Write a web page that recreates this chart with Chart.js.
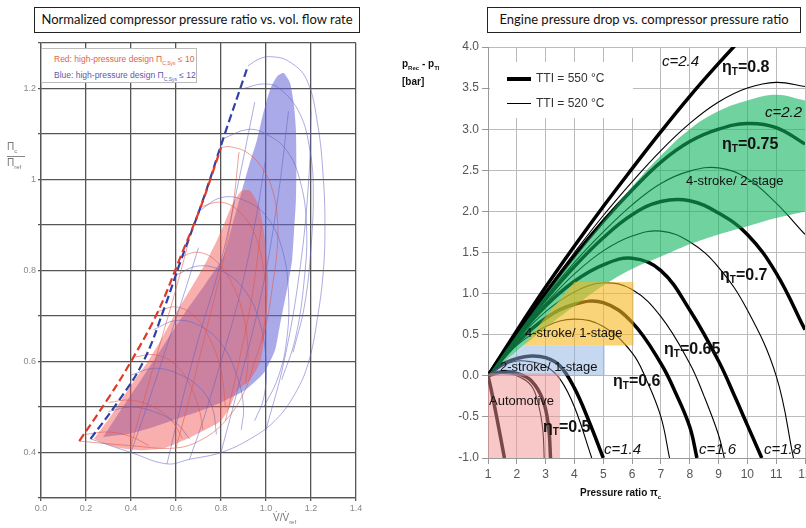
<!DOCTYPE html>
<html>
<head>
<meta charset="utf-8">
<script src="https://cdn.jsdelivr.net/npm/chart.js@4.4.0/dist/chart.umd.min.js"></script>
<style>
body{margin:0;width:806px;height:528px;overflow:hidden;background:#fff;position:relative;font-family:'Liberation Sans',Arial,sans-serif}
canvas{position:absolute;top:0}
#left{left:0}
#right{left:400px}
.box{position:absolute;border:1.5px solid #222;background:#fff;font-family:Lato,'Open Sans',sans-serif;font-size:13px;color:#111;text-align:center;line-height:23px;box-sizing:border-box}
.t{position:absolute;white-space:nowrap;color:#111}
.eta{font-weight:bold;font-size:16px}
.eta sub{font-size:10px;vertical-align:-3px}
.c{font-style:italic;font-size:15px}
.reg{font-size:13px}
</style>
</head>
<body>
<canvas id="left" width="400" height="528"></canvas>
<canvas id="right" width="420" height="528"></canvas>

<div class="box" style="left:34px;top:7px;width:326px;height:26px">Normalized compressor pressure ratio vs. vol. flow rate</div>
<div class="box" style="left:487px;top:7px;width:314px;height:26px">Engine pressure drop vs. compressor pressure ratio</div>

<!-- left panel texts -->
<div style="position:absolute;left:41px;top:48px;width:156px;height:35px;border:1px solid #bbb;background:#fff;box-sizing:border-box;font-size:8.5px;line-height:12px;padding:4px 0 0 12px">
  <div style="color:#e26447">Red: high-pressure design Π<sub style="font-size:5px">C,Sys</sub> ≤ 10</div>
  <div style="color:#5a5ab4">Blue: high-pressure design Π<sub style="font-size:5px">C,Sys</sub> ≤ 12</div>
</div>
<div class="t" style="left:7px;top:141px;font-size:10px;color:#777">Π<sub style="font-size:6px">c</sub></div>
<div style="position:absolute;left:7px;top:156px;width:18px;border-top:1px solid #888"></div>
<div class="t" style="left:7px;top:157px;font-size:10px;color:#777">Π<sub style="font-size:6px">ref</sub></div>
<div class="t" style="left:273px;top:512px;font-size:10px;color:#777">V̇/V̇<sub style="font-size:6px">ref</sub></div>

<!-- right panel texts -->
<div class="t" style="left:402px;top:58px;font-size:10px;font-weight:bold">p<sub style="font-size:6px">Rec</sub> - p<sub style="font-size:6px">TI</sub></div>
<div class="t" style="left:402px;top:76px;font-size:10px;font-weight:bold">[bar]</div>
<div class="t" style="left:580px;top:487px;font-size:10px;font-weight:bold">Pressure ratio π<sub style="font-size:6px">c</sub></div>

<div style="position:absolute;left:490px;top:62px;width:143px;height:56px;background:#fff"></div>
<div style="position:absolute;left:507px;top:77px;width:24px;height:4px;background:#000"></div>
<div class="t" style="left:536px;top:71px;font-size:12px;color:#333">TTI = 550 °C</div>
<div style="position:absolute;left:507px;top:103px;width:24px;height:1px;background:#000"></div>
<div class="t" style="left:536px;top:96px;font-size:12px;color:#333">TTI = 520 °C</div>

<div class="t c" style="left:662px;top:52px">c=2.4</div>
<div class="t eta" style="left:722px;top:58px">η<sub>T</sub>=0.8</div>
<div class="t c" style="left:765px;top:103px">c=2.2</div>
<div class="t eta" style="left:722px;top:135px">η<sub>T</sub>=0.75</div>
<div class="t reg" style="left:686px;top:173px">4-stroke/ 2-stage</div>
<div class="t eta" style="left:720px;top:266px">η<sub>T</sub>=0.7</div>
<div class="t reg" style="left:525px;top:325px">4-stroke/ 1-stage</div>
<div class="t eta" style="left:664px;top:340px">η<sub>T</sub>=0.65</div>
<div class="t reg" style="left:500px;top:359px">2-stroke/ 1-stage</div>
<div class="t eta" style="left:613px;top:372px">η<sub>T</sub>=0.6</div>
<div class="t reg" style="left:489px;top:393px">Automotive</div>
<div class="t eta" style="left:543px;top:418px">η<sub>T</sub>=0.5</div>
<div class="t c" style="left:604px;top:440px">c=1.4</div>
<div class="t c" style="left:699px;top:440px">c=1.6</div>
<div class="t c" style="left:764px;top:440px">c=1.8</div>

<script>
// ---------- left: compressor map (V/Vref, PIc/PIref) ----------
const surgeRed  = [[0.17,0.425],[0.3,0.52],[0.4,0.6],[0.52,0.71],[0.62,0.83],[0.71,0.94],[0.80,1.07]];
const surgeBlue = [[0.22,0.43],[0.34,0.51],[0.455,0.6],[0.55,0.72],[0.62,0.82],[0.72,0.955],[0.81,1.09],[0.92,1.25]];

const fillBlue = [[0.276,0.434],[0.33,0.475],[0.39,0.52],[0.445,0.56],[0.498,0.6],[0.57,0.655],[0.65,0.715],[0.73,0.77],
  [0.81,0.83],[0.85,0.9],[0.89,0.97],[0.93,1.04],[0.96,1.087],[0.99,1.15],[1.02,1.2],[1.05,1.227],[1.078,1.234],
  [1.107,1.212],[1.125,1.16],[1.133,1.109],[1.135,1.03],[1.133,0.955],[1.125,0.89],[1.116,0.823],[1.1,0.775],
  [1.084,0.735],[1.06,0.675],[1.04,0.625],[0.99,0.575],[0.9,0.535],[0.8,0.51],[0.7,0.49],[0.58,0.47],[0.48,0.453],[0.38,0.44]];
const fillRed = [[0.235,0.43],[0.31,0.48],[0.41,0.555],[0.475,0.6],[0.53,0.645],[0.58,0.69],[0.635,0.735],[0.69,0.78],
  [0.74,0.825],[0.785,0.87],[0.82,0.91],[0.85,0.945],[0.89,0.975],[0.93,0.975],[0.97,0.94],[0.995,0.87],[1.01,0.78],
  [1.0,0.68],[0.975,0.6],[0.93,0.56],[0.87,0.535],[0.84,0.5],[0.8,0.47],[0.75,0.455],[0.65,0.43],[0.55,0.41],
  [0.45,0.405],[0.35,0.41],[0.28,0.42]];

const meshBlue = [
  [[0.92,1.25],[0.97,1.265],[1.02,1.27],[1.1,1.26],[1.18,1.22],[1.23,1.12],[1.255,1.0],[1.262,0.9],[1.255,0.8],[1.23,0.7],[1.19,0.6],[1.13,0.53],[1.04,0.47],[0.93,0.43],[0.8,0.4],[0.66,0.385],[0.56,0.375],[0.4,0.4],[0.22,0.43]],
  [[0.9,1.2],[0.99,1.21],[1.06,1.2],[1.15,1.145],[1.195,1.065],[1.21,0.98],[1.2,0.85],[1.17,0.72],[1.12,0.62]],
  [[0.81,1.09],[0.92,1.11],[1.0,1.1],[1.09,1.065],[1.15,1.0],[1.18,0.9],[1.17,0.78],[1.13,0.65],[1.07,0.56]],
  [[0.7,0.93],[0.8,0.96],[0.9,0.955],[1.0,0.92],[1.07,0.85],[1.1,0.75],[1.09,0.64],[1.05,0.56],[0.99,0.5]],
  [[0.6,0.79],[0.7,0.81],[0.8,0.8],[0.9,0.76],[0.97,0.69],[1.0,0.6],[0.99,0.52],[0.95,0.47]],
  [[0.5,0.67],[0.6,0.69],[0.7,0.68],[0.8,0.64],[0.87,0.57],[0.9,0.5],[0.89,0.45]],
  [[0.4,0.57],[0.5,0.585],[0.6,0.575],[0.7,0.545],[0.76,0.5],[0.78,0.44]],
  [[0.3,0.49],[0.4,0.5],[0.5,0.49],[0.6,0.465],[0.66,0.43]],
  [[0.56,0.375],[0.62,0.5],[0.7,0.65],[0.8,0.82],[0.88,1.0],[0.95,1.17]],
  [[0.8,0.4],[0.88,0.55],[0.98,0.75],[1.05,0.95],[1.1,1.15]],
  [[1.0,0.45],[1.08,0.6],[1.15,0.8],[1.19,1.0],[1.2,1.15]],
  [[0.4,0.4],[0.47,0.5],[0.55,0.62],[0.63,0.74],[0.7,0.85]],
  [[0.66,0.385],[0.72,0.47],[0.8,0.6],[0.88,0.74],[0.95,0.9],[1.0,1.05]]
];
const meshRed = [
  [[0.8,1.07],[0.84,1.072],[0.92,1.058],[0.99,1.02],[1.03,0.975],[1.05,0.92],[1.05,0.85],[1.03,0.77],[1.0,0.68],[0.95,0.6],[0.9,0.53],[0.82,0.47],[0.72,0.43],[0.6,0.41],[0.4,0.415],[0.17,0.425]],
  [[0.71,0.94],[0.8,0.95],[0.88,0.93],[0.95,0.88],[0.99,0.8],[1.0,0.72],[0.98,0.64]],
  [[0.62,0.83],[0.7,0.84],[0.78,0.82],[0.85,0.77],[0.9,0.7],[0.92,0.62],[0.91,0.55]],
  [[0.52,0.71],[0.6,0.72],[0.68,0.7],[0.75,0.65],[0.8,0.58],[0.82,0.5]],
  [[0.42,0.61],[0.5,0.615],[0.58,0.6],[0.65,0.56],[0.7,0.5],[0.72,0.45]],
  [[0.3,0.51],[0.4,0.515],[0.5,0.5],[0.58,0.47],[0.63,0.43]],
  [[0.2,0.44],[0.3,0.445],[0.4,0.435],[0.48,0.415]],
  [[0.6,0.41],[0.66,0.52],[0.73,0.66],[0.8,0.8],[0.85,0.93],[0.88,1.06]],
  [[0.82,0.47],[0.88,0.6],[0.94,0.75],[0.98,0.9]],
  [[0.4,0.415],[0.46,0.52],[0.53,0.64],[0.6,0.76],[0.66,0.87]]
];

// ---------- right: engine pressure drop vs. pressure ratio ----------
const eta80_550 = [[1,0],[2,0.55],[3,1.08],[4,1.58],[5,2.06],[6,2.52],[7,2.97],[8,3.4],[9,3.8],[10,4.18]];
const eta80_520 = [[1,0],[2,0.53],[3,1.03],[4,1.5],[5,1.95],[6,2.36],[7,2.74],[8,3.07],[9,3.33],[10,3.5],[11,3.57],[12,3.52]];
const eta75_550 = [[1,0],[2,0.52],[3,1.0],[4,1.46],[5,1.88],[6,2.26],[7,2.6],[8,2.85],[9,3.0],[10,3.07],[11,3.02],[12,2.82]];
const eta75_520 = [[1,0],[2,0.5],[3,0.96],[4,1.38],[5,1.75],[6,2.08],[7,2.34],[8,2.49],[9,2.53],[10,2.4],[11,2.1],[12,1.72]];
const eta70_550 = [[1,0],[2,0.49],[3,0.93],[4,1.33],[5,1.68],[6,1.96],[7,2.12],[8,2.13],[9,1.98],[10,1.72],[11,1.25],[12,0.56]];
const eta70_520 = [[1,0],[2,0.47],[3,0.88],[4,1.24],[5,1.52],[6,1.7],[7,1.76],[8,1.63],[9,1.32],[10,0.8],[11,0.0],[11.6,-1]];
const eta65_550 = [[1,0],[2,0.46],[3,0.85],[4,1.15],[5,1.35],[6,1.43],[7,1.28],[8,0.8],[9,0.18],[9.6,-0.28],[10,-0.6],[10.5,-1]];
const eta65_520 = [[1,0],[2,0.43],[3,0.78],[4,1.02],[5,1.13],[6,1.05],[7,0.72],[8,0.15],[8.5,-0.25],[9,-0.72],[9.2,-1]];
const eta60_550 = [[1,0],[2,0.4],[3,0.7],[4,0.87],[5,0.89],[6,0.65],[7,0.15],[7.5,-0.2],[8,-0.62],[8.25,-1]];
const eta60_520 = [[1,0],[2,0.37],[3,0.6],[4,0.69],[5,0.6],[6,0.28],[6.5,-0.05],[7,-0.5],[7.3,-1]];
const eta50_550 = [[1,0],[1.5,0.14],[2,0.21],[2.5,0.24],[3,0.22],[3.5,0.12],[4,-0.15],[4.5,-0.55],[5,-1]];
const eta50_520 = [[1,0],[1.5,0.12],[2,0.18],[2.5,0.17],[3,0.12],[3.5,-0.04],[4,-0.38],[4.6,-1]];
const auto_550 = [[1,0],[1.5,0.05],[2,0.03],[2.5,-0.06],[2.9,-0.29],[3.1,-0.62],[3.17,-1]];
const auto_520 = [[1,0],[1.5,0.03],[2,0.0],[2.5,-0.12],[2.75,-0.35],[2.9,-0.65],[2.95,-1]];
const auto_550b = [[1,0],[1.1,-0.15],[1.3,-0.5],[1.57,-1]];

const bandUpper = [[1,0],[2,0.5],[3,0.98],[4,1.44],[5,1.88],[6,2.3],[7,2.68],[8,3.0],[9,3.22],[10,3.35],[11,3.42],[12,3.35]];
const bandLower = [[1,0],[2,0.3],[3,0.58],[3.5,0.72],[4,0.85],[5,1.1],[6,1.3],[7,1.45],[8,1.6],[9,1.72],[10,1.82],[11,1.92],[12,2.0]];
const fourStroke1 = [[2.25,0.37],[6.05,0.37],[6.05,1.14],[4.0,1.14],[3.0,0.72]];
const twoStroke1 = [[1,0],[5.05,0],[5.05,0.37],[2.25,0.37]];
const automotive = [[1,-1],[3.5,-1],[3.5,0.03],[1,0.03]];

const pts = a => a.map(p => ({x: p[0], y: p[1]}));

function curve(data, color, width, order, dash) {
	return {data: pts(data), borderColor: color, borderWidth: width, borderDash: dash || [],
		pointRadius: 0, fill: false, tension: 0.4, order: order};
}
function area(data, color, order, tension) {
	return {data: pts(data), backgroundColor: color, borderWidth: 0, borderColor: 'rgba(0,0,0,0)',
		pointRadius: 0, fill: 'shape', tension: tension, order: order};
}

// left chart
let leftSets = [
	area(fillBlue, 'rgba(100,100,215,0.55)', 6, 0.2),
	area(fillRed, 'rgba(240,85,80,0.47)', 5, 0.2)
];
meshBlue.forEach(m => leftSets.push(curve(m, 'rgba(95,95,195,0.65)', 0.8, 4)));
meshRed.forEach(m => leftSets.push(curve(m, 'rgba(225,85,70,0.7)', 0.8, 3)));
leftSets.push(curve(surgeRed, '#dd3a2a', 2.2, 1, [8, 4]));
leftSets.push(curve(surgeBlue, '#3040a8', 2.2, 1, [8, 4]));

new Chart(document.getElementById('left'), {
	type: 'line',
	data: {datasets: leftSets},
	options: {
		responsive: false,
		animation: false,
		layout: {padding: {top: 43, right: 44, left: 0, bottom: 0}},
		plugins: {legend: {display: false}, tooltip: {enabled: false}},
		scales: {
			x: {
				type: 'linear', min: 0, max: 1.4,
				ticks: {stepSize: 0.2, autoSkip: false, color: '#888', font: {size: 9}, padding: 2,
					callback: v => v.toFixed(1)},
				grid: {color: '#555', lineWidth: 1.3, tickLength: 3},
				border: {color: '#555', width: 1.3},
				afterFit: s => { s.height = 30; }
			},
			y: {
				type: 'linear', min: 0.3, max: 1.3,
				ticks: {stepSize: 0.1, autoSkip: false, color: '#888', font: {size: 9}, padding: 2,
					callback: v => {
						let k = Math.round(v * 10);
						if (k % 2 !== 0 || k < 4 || k > 12) return '';
						return k === 10 ? '1' : (k / 10).toFixed(1);
					}},
				grid: {color: '#555', lineWidth: 1.3, tickLength: 3},
				border: {color: '#555', width: 1.3},
				afterFit: s => { s.width = 41; }
			}
		}
	}
});

// right chart: coloured regions are drawn over the curves (lower order = drawn later)
let rightSets = [
	area(automotive, 'rgba(241,145,145,0.5)', 1, 0),
	area(twoStroke1, 'rgba(141,175,225,0.5)', 1, 0),
	area(fourStroke1, 'rgba(247,183,30,0.6)', 1, 0),
	{data: pts(bandUpper), borderWidth: 0, pointRadius: 0, fill: false, tension: 0.4, order: 1},
	{data: pts(bandLower), borderWidth: 0, pointRadius: 0, fill: '-1', backgroundColor: 'rgba(15,180,95,0.6)', tension: 0.4, order: 1}
];
[eta80_550, eta75_550, eta70_550, eta65_550, eta60_550, eta50_550, auto_550, auto_550b].forEach(d => rightSets.push(curve(d, '#000', 3.5, 2)));
[eta80_520, eta75_520, eta70_520, eta65_520, eta60_520, eta50_520, auto_520].forEach(d => rightSets.push(curve(d, '#000', 1.1, 2)));

new Chart(document.getElementById('right'), {
	type: 'line',
	data: {datasets: rightSets},
	options: {
		responsive: false,
		animation: false,
		layout: {padding: {top: 47, right: 15, left: 0, bottom: 0}},
		plugins: {legend: {display: false}, tooltip: {enabled: false}},
		scales: {
			x: {
				type: 'linear', min: 1, max: 12,
				ticks: {stepSize: 1, autoSkip: false, color: '#555', font: {size: 12, family: 'Liberation Sans'}, padding: 3},
				grid: {color: '#bbb', lineWidth: 1, tickLength: 6, tickColor: '#999'},
				border: {color: '#999'},
				afterFit: s => { s.height = 70; }
			},
			y: {
				type: 'linear', min: -1, max: 4,
				ticks: {stepSize: 0.5, autoSkip: false, color: '#555', font: {size: 12, family: 'Liberation Sans'}, padding: 3,
					callback: v => v.toFixed(1)},
				grid: {color: '#bbb', lineWidth: 1, tickLength: 6, tickColor: '#999'},
				border: {color: '#999'},
				afterFit: s => { s.width = 88; }
			}
		}
	}
});
</script>
</body>
</html>
